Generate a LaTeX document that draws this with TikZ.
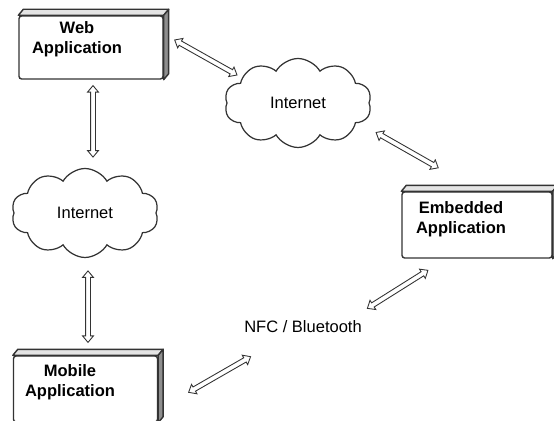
\documentclass[tikz,border=0pt]{standalone}
\usepackage{fontspec}
\setmainfont{Liberation Sans}
\usepackage{xcolor}
\definecolor{lineDark}{HTML}{333333}
\definecolor{sideGray}{HTML}{8E8E8E}
\definecolor{topGray}{HTML}{E4E4E4}
\usetikzlibrary{shapes,arrows,positioning,calc,arrows.meta,shapes.symbols,shapes.arrows}
\tikzset{
  appBox/.style={
    rectangle,
    rounded corners=1.5pt,
    draw=lineDark,
    line width=0.8pt,
    fill=white,
    minimum width=2.88cm,
    minimum height=1.26cm,
    inner sep=0pt
 },
  appText/.style={
    align=center,
    inner sep=0pt,
    font=\fontsize{9.4}{11.4}\selectfont\bfseries
 },
  faceLine/.style={
    draw=lineDark,
    line width=0.8pt,
    line join=round
 },
  netCloud/.style={
    cloud,
    cloud puffs=10,
    cloud puff arc=120,
    aspect=1.7,
    draw=lineDark,
    line width=0.7pt,
    fill=white,
    minimum width=2.94cm,
    minimum height=1.78cm,
    inner sep=0pt
 },
  linkArrow/.style={
    double arrow,
    draw=lineDark,
    line width=0.5pt,
    fill=white,
    inner xsep=0pt,
    inner ysep=0.4mm,
    minimum height=1.43cm,
    double arrow head extend=0.6mm,
    double arrow tip angle=80
 }
}
% top and right faces of a box
\newcommand{\boxDepth}[1]{%
  \draw[faceLine, fill=topGray] (#1.north west) -- ++(5,-6) -- ($(#1.north east)+(5,-6)$) -- (#1.north east) -- cycle;
  \draw[faceLine, fill=sideGray] (#1.north east) -- ++(5,-6) -- ($(#1.south east)+(5,-6)$) -- (#1.south east) -- cycle;
}

\begin{document}
\begin{tikzpicture}[x=0.02cm, y=-0.02cm, every node/.style={font=\fontsize{9.4}{11.4}\selectfont}]
    \useasboundingbox (0,0) rectangle (554,421);

    % applications
    \node[appBox] (web) at (91,47.5) {};
    \boxDepth{web}
    \node[appText] (webText) at ([shift={(-14,-8)}]web.center) {Web\\Application};

    \node[appBox, minimum width=3cm, minimum height=1.32cm] (emb) at (477,225) {};
    \boxDepth{emb}
    \node[appText] (embText) at ([shift={(-16,-6)}]emb.center) {Embedded\\Application};

    \node[appBox, minimum height=1.32cm] (mob) at (85.5,389) {};
    \boxDepth{mob}
    \node[appText] (mobText) at ([shift={(-15.5,-7)}]mob.center) {Mobile\\Application};

    % networks
    \node[netCloud] (netTop) at (298,103) {Internet};
    \node[netCloud] (netLeft) at (85,213) {Internet};
    \node (nfc) at (303,327) {NFC / Bluetooth};

    % links
    \path ([shift={(11,-7.5)}]web.east) -- node[linkArrow, sloped] {} ([shift={(-61,-28)}]netTop.center);
    \path ([shift={(79,30)}]netTop.center) -- node[linkArrow, sloped] {} ([shift={(36,-24)}]emb.north west);
    \path ([shift={(2,5)}]web.south) -- node[linkArrow, sloped] {} ([shift={(8,-55)}]netLeft.center);
    \path ([shift={(3,59)}]netLeft.center) -- node[linkArrow, sloped] {} ([shift={(2.5,-14)}]mob.north);
    \path ([shift={(31,3)}]mob.east) -- node[linkArrow, sloped] {} ([shift={(-53,30)}]nfc.center);
    \path ([shift={(65,-19)}]nfc.center) -- node[linkArrow, sloped] {} ([shift={(26,12)}]emb.south west);
\end{tikzpicture}
\end{document}
